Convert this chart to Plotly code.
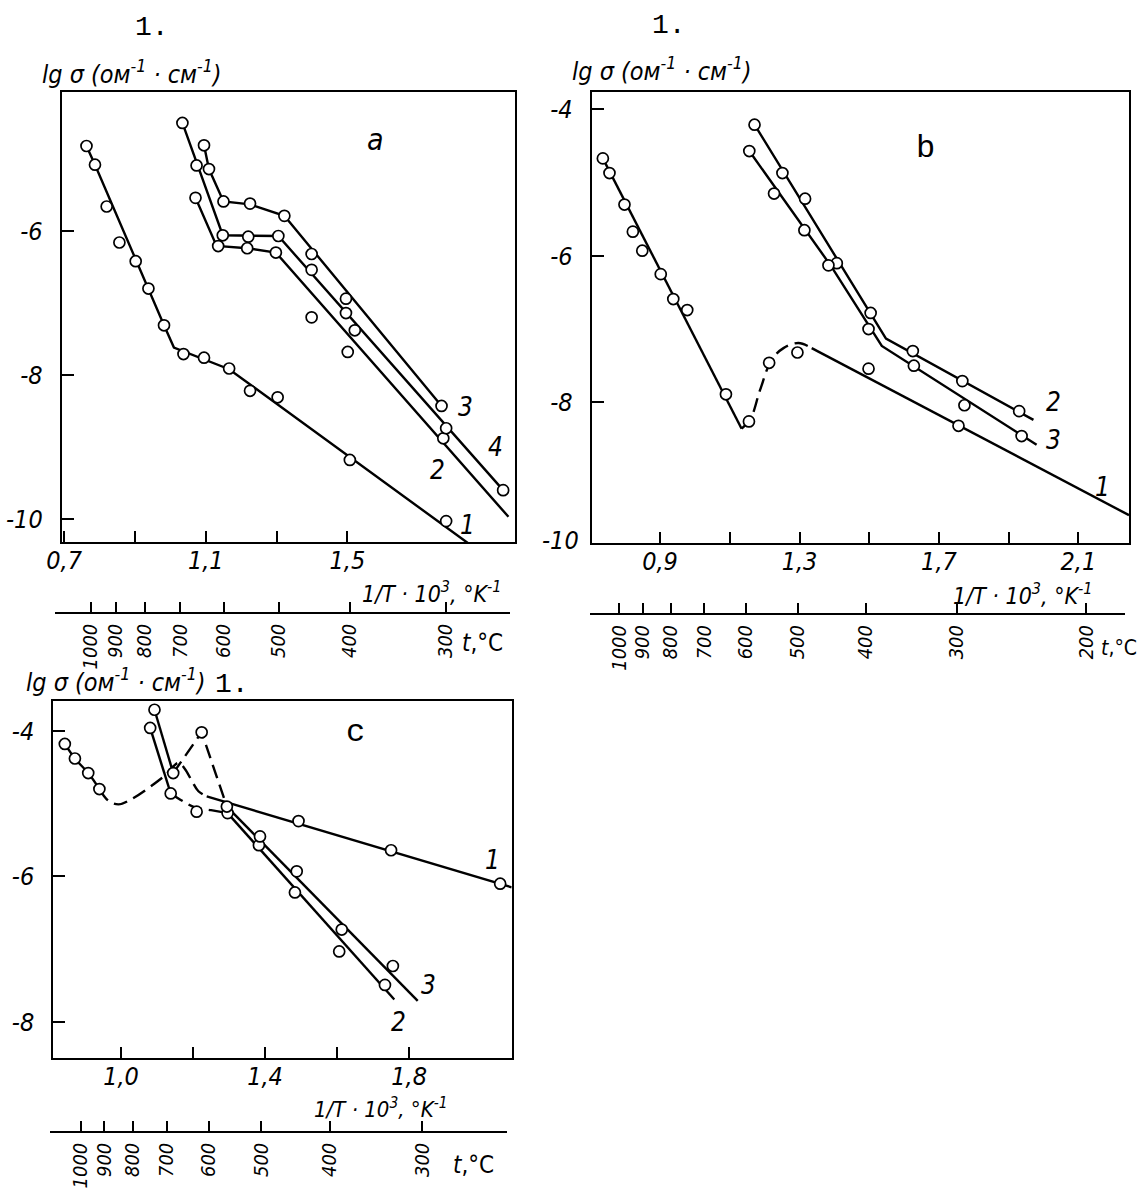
import plotly.graph_objects as go

W, H = 1140, 1191
FONT = "DejaVu Sans Condensed, DejaVu Sans, sans-serif"
MONO = "Liberation Mono, DejaVu Sans Mono, monospace"

# ---------------- panel a ----------------
a1_pts_x = [0.763, 0.787, 0.820, 0.856, 0.902, 0.938, 0.982, 1.037, 1.095, 1.166, 1.225, 1.303, 1.507, 1.779]
a1_pts_y = [-4.82, -5.08, -5.66, -6.16, -6.42, -6.80, -7.31, -7.71, -7.76, -7.91, -8.22, -8.31, -9.18, -10.03]
a1_line_x = [0.763, 0.787, 0.982, 1.010, 1.166, 1.842]
a1_line_y = [-4.82, -5.08, -7.31, -7.62, -7.92, -10.34]

a2_pts_x = [1.071, 1.135, 1.217, 1.298, 1.399, 1.501, 1.771]
a2_pts_y = [-5.54, -6.21, -6.24, -6.30, -7.20, -7.68, -8.88]
a2_line_x = [1.071, 1.128, 1.140, 1.217, 1.298, 1.955]
a2_line_y = [-5.54, -6.18, -6.21, -6.24, -6.30, -9.97]

a3_pts_x = [1.095, 1.109, 1.150, 1.225, 1.322, 1.399, 1.496, 1.766]
a3_pts_y = [-4.81, -5.14, -5.59, -5.62, -5.79, -6.32, -6.94, -8.43]
a3_line_x = [1.095, 1.109, 1.150, 1.225, 1.322, 1.766]
a3_line_y = [-4.81, -5.14, -5.59, -5.63, -5.79, -8.43]

a4_pts_x = [1.034, 1.074, 1.148, 1.220, 1.305, 1.399, 1.496, 1.521, 1.779, 1.940]
a4_pts_y = [-4.50, -5.09, -6.06, -6.08, -6.07, -6.54, -7.14, -7.38, -8.74, -9.60]
a4_line_x = [1.034, 1.148, 1.305, 1.940]
a4_line_y = [-4.50, -6.06, -6.07, -9.60]

# ---------------- panel b ----------------
b1_pts_x = [0.736, 0.755, 0.798, 0.822, 0.849, 0.902, 0.938, 0.978, 1.089, 1.155, 1.213, 1.294, 1.498, 1.756]
b1_pts_y = [-4.67, -4.87, -5.30, -5.67, -5.93, -6.25, -6.59, -6.74, -7.89, -8.26, -7.46, -7.32, -7.54, -8.32]
b1_hi_x = [0.736, 1.134]
b1_hi_y = [-4.67, -8.36]
b1_dash_x = [1.134, 1.160, 1.187, 1.220, 1.254, 1.297, 1.335]
b1_dash_y = [-8.36, -8.22, -7.83, -7.42, -7.26, -7.19, -7.26]
b1_lo_x = [1.335, 2.245]
b1_lo_y = [-7.26, -9.54]

b2_pts_x = [1.171, 1.251, 1.316, 1.407, 1.504, 1.625, 1.767, 1.930]
b2_pts_y = [-4.21, -4.87, -5.22, -6.10, -6.78, -7.30, -7.71, -8.12]
b2_line_x = [1.171, 1.548, 1.971]
b2_line_y = [-4.21, -7.13, -8.24]

b3_pts_x = [1.156, 1.227, 1.314, 1.383, 1.498, 1.628, 1.773, 1.937]
b3_pts_y = [-4.57, -5.15, -5.65, -6.13, -7.00, -7.50, -8.04, -8.46]
b3_line_x = [1.156, 1.392, 1.536, 1.980]
b3_line_y = [-4.57, -6.15, -7.23, -8.58]

# ---------------- panel c ----------------
c1_pts_x = [0.844, 0.872, 0.909, 0.940, 1.493, 1.750, 2.053]
c1_pts_y = [-4.18, -4.38, -4.58, -4.80, -5.24, -5.64, -6.10]
c1_hi_x = [0.844, 0.872, 0.909, 0.940]
c1_hi_y = [-4.18, -4.38, -4.58, -4.80]
c1_dash_x = [0.940, 0.965, 0.993, 1.025, 1.118, 1.160, 1.177, 1.197, 1.215, 1.238]
c1_dash_y = [-4.80, -4.96, -5.01, -4.95, -4.63, -4.44, -4.52, -4.69, -4.83, -4.90]
c1_lo_x = [1.238, 2.085]
c1_lo_y = [-4.90, -6.15]

c2_pts_x = [1.081, 1.138, 1.210, 1.296, 1.383, 1.483, 1.606, 1.733]
c2_pts_y = [-3.96, -4.86, -5.11, -5.13, -5.57, -6.22, -7.03, -7.49]
c2_hi_x = [1.081, 1.138]
c2_hi_y = [-3.96, -4.86]
c2_dash_x = [1.138, 1.173, 1.205, 1.250, 1.296]
c2_dash_y = [-4.86, -4.97, -5.05, -5.09, -5.13]
c2_lo_x = [1.296, 1.759]
c2_lo_y = [-5.13, -7.69]

c3_pts_x = [1.093, 1.145, 1.224, 1.294, 1.386, 1.488, 1.613, 1.755]
c3_pts_y = [-3.71, -4.58, -4.02, -5.04, -5.45, -5.93, -6.73, -7.23]
c3_hi_x = [1.093, 1.145]
c3_hi_y = [-3.71, -4.58]
c3_dash_x = [1.145, 1.224, 1.294]
c3_dash_y = [-4.58, -4.02, -5.04]
c3_lo_x = [1.294, 1.824]
c3_lo_y = [-5.04, -7.71]

# 1/T axis ticks: labelled and unlabelled
a_xlab_vals, a_xlab_text, a_xminor = [0.7, 1.1, 1.5], ["0,7", "1,1", "1,5"], [0.9, 1.3]
b_xlab_vals, b_xlab_text, b_xminor = [0.9, 1.3, 1.7, 2.1], ["0,9", "1,3", "1,7", "2,1"], [1.1, 1.5, 1.9]
c_xlab_vals, c_xlab_text, c_xminor = [1.0, 1.4, 1.8], ["1,0", "1,4", "1,8"], [1.2, 1.6]

# temperature scales (deg C) printed under each 1/T axis
t_ticks_ac = [1000, 900, 800, 700, 600, 500, 400, 300]
t_ticks_b = [1000, 900, 800, 700, 600, 500, 400, 300, 200]


def inv_t(t):
    return 1000.0 / (t + 273.15)


fig = go.Figure()


def add_line(x, y, xa, ya, dash="solid", spline=False):
    fig.add_trace(go.Scatter(
        x=x, y=y, mode="lines", xaxis=xa, yaxis=ya, showlegend=False, hoverinfo="skip",
        line=dict(color="black", width=2.4, dash=dash, shape="spline" if spline else "linear"),
    ))


def add_points(x, y, xa, ya):
    fig.add_trace(go.Scatter(
        x=x, y=y, mode="markers", xaxis=xa, yaxis=ya, showlegend=False, hoverinfo="skip",
        cliponaxis=False,
        marker=dict(symbol="circle", size=11, color="white", line=dict(color="black", width=1.7)),
    ))


DASH = "14px,7px"

# panel a
for lx, ly in [(a1_line_x, a1_line_y), (a2_line_x, a2_line_y), (a3_line_x, a3_line_y), (a4_line_x, a4_line_y)]:
    add_line(lx, ly, "x", "y")
for px_, py_ in [(a1_pts_x, a1_pts_y), (a2_pts_x, a2_pts_y), (a3_pts_x, a3_pts_y), (a4_pts_x, a4_pts_y)]:
    add_points(px_, py_, "x", "y")

# panel b
add_line(b1_hi_x, b1_hi_y, "x2", "y2")
add_line(b1_dash_x, b1_dash_y, "x2", "y2", dash=DASH, spline=True)
add_line(b1_lo_x, b1_lo_y, "x2", "y2")
add_line(b2_line_x, b2_line_y, "x2", "y2")
add_line(b3_line_x, b3_line_y, "x2", "y2")
for px_, py_ in [(b1_pts_x, b1_pts_y), (b2_pts_x, b2_pts_y), (b3_pts_x, b3_pts_y)]:
    add_points(px_, py_, "x2", "y2")

# panel c
add_line(c1_hi_x, c1_hi_y, "x3", "y3", spline=True)
add_line(c1_dash_x, c1_dash_y, "x3", "y3", dash=DASH, spline=True)
add_line(c1_lo_x, c1_lo_y, "x3", "y3")
add_line(c2_hi_x, c2_hi_y, "x3", "y3")
add_line(c2_dash_x, c2_dash_y, "x3", "y3", dash=DASH, spline=True)
add_line(c2_lo_x, c2_lo_y, "x3", "y3")
add_line(c3_hi_x, c3_hi_y, "x3", "y3")
add_line(c3_dash_x, c3_dash_y, "x3", "y3", dash=DASH)
add_line(c3_lo_x, c3_lo_y, "x3", "y3")
for px_, py_ in [(c1_pts_x, c1_pts_y), (c2_pts_x, c2_pts_y), (c3_pts_x, c3_pts_y)]:
    add_points(px_, py_, "x3", "y3")

# empty traces so the temperature scales are rendered
for xa, ya in [("x4", "y"), ("x5", "y2"), ("x6", "y3")]:
    fig.add_trace(go.Scatter(x=[None], y=[None], xaxis=xa, yaxis=ya, showlegend=False, hoverinfo="skip"))

tick_font = dict(family=FONT, size=25, color="black", style="italic")
TICK = dict(ticks="inside", tickwidth=1.6, tickcolor="black")


def frame_x(dom, rng, vals, text, minor_vals, anchor):
    return dict(domain=[dom[0] / W, dom[1] / W], range=rng, anchor=anchor,
                tickmode="array", tickvals=vals, ticktext=text, ticklen=11, **TICK,
                minor=dict(tickmode="array", tickvals=minor_vals, ticklen=11, showgrid=False, **TICK),
                showline=True, mirror=True, linewidth=2, linecolor="black",
                showgrid=False, zeroline=False, tickfont=tick_font, ticklabelstandoff=-5)


def frame_y(dom, rng, vals, text, anchor):
    return dict(domain=[1 - dom[1] / H, 1 - dom[0] / H], range=rng, anchor=anchor,
                tickmode="array", tickvals=vals, ticktext=text, ticklen=12, **TICK,
                showline=True, mirror=True, linewidth=2, linecolor="black",
                showgrid=False, zeroline=False, tickfont=tick_font, ticklabelstandoff=12)


def t_axis(dom, rng, ticks, ypos):
    return dict(domain=[dom[0] / W, dom[1] / W], range=rng, anchor="free", position=1 - ypos / H,
                tickmode="array", tickvals=[inv_t(t) for t in ticks], ticktext=[str(t) for t in ticks],
                tickangle=-90, ticklen=10, **TICK,
                showline=True, linewidth=2, linecolor="black", showgrid=False, zeroline=False,
                tickfont=dict(family=FONT, size=20, color="black", style="italic"), ticklabelstandoff=2)


fig.update_layout(
    width=W, height=H, margin=dict(l=0, r=0, t=0, b=0, pad=0, autoexpand=False),
    paper_bgcolor="white", plot_bgcolor="rgba(0,0,0,0)", showlegend=False,
    xaxis=frame_x((61.7, 515), [0.693, 1.9735], a_xlab_vals, a_xlab_text, a_xminor, "y"),
    yaxis=frame_y((92, 542), [-10.32, -4.07], [-6, -8, -10], ["-6", "-8", "-10"], "x"),
    xaxis2=frame_x((591.7, 1129), [0.704, 2.245], b_xlab_vals, b_xlab_text, b_xminor, "y2"),
    yaxis2=frame_y((92, 543), [-9.92, -3.764], [-4, -6, -8], ["-4", "-6", "-8"], "x2"),
    xaxis3=frame_x((53.3, 511.7), [0.812, 2.085], c_xlab_vals, c_xlab_text, c_xminor, "y3"),
    yaxis3=frame_y((701, 1057.7), [-8.49, -3.59], [-4, -6, -8], ["-4", "-6", "-8"], "x3"),
    xaxis4=t_axis((55, 510), [0.6888, 1.9185], t_ticks_ac, 612.7),
    xaxis5=t_axis((590, 1125), [0.7022, 2.2230], t_ticks_b, 614),
    xaxis6=t_axis((50, 506.7), [0.6994, 1.9826], t_ticks_ac, 1131.7),
)


def note(text, px, py, size=22, family=FONT, italic=True, xanchor="center"):
    fig.add_annotation(
        x=px / W, y=1 - py / H, xref="paper", yref="paper", text=text, showarrow=False,
        xanchor=xanchor, yanchor="middle",
        font=dict(family=family, size=size, color="black", style="italic" if italic else "normal"),
    )


y_title = "lg σ (ом<sup>-1</sup> · см<sup>-1</sup>)"
x_title = "1/T · 10<sup>3</sup>, °K<sup>-1</sup>"
t_title = "<i>t</i>,°C"

# panel a texts
note("1.", 152, 28, size=28, family=MONO, italic=False)
note(y_title, 132, 72, size=25)
note(x_title, 432, 592, size=23)
note(t_title, 482, 643, size=24, italic=False)
note("a", 375, 140, size=30)
note("3", 465, 407, size=26)
note("4", 495, 447, size=26)
note("2", 438, 470, size=26)
note("1", 467, 525, size=26)

# panel b texts
note("1.", 669, 25, size=28, family=MONO, italic=False)
note(y_title, 662, 70, size=25)
note(x_title, 1023, 594, size=23)
note(t_title, 1139, 648, size=21, italic=False, xanchor="right")
note("-10", 560, 540, size=25)
note("b", 925, 148, size=32, family=MONO, italic=False)
note("2", 1053, 402, size=26)
note("3", 1053, 440, size=26)
note("1", 1102, 487, size=26)

# panel c texts
note("1.", 232, 684, size=28, family=MONO, italic=False)
note(y_title, 116, 680, size=25)
note(x_title, 380, 1108, size=22)
note(t_title, 473, 1165, size=24, italic=False)
note("c", 355, 732, size=32, family=MONO, italic=False)
note("1", 492, 860, size=26)
note("3", 428, 985, size=26)
note("2", 398, 1022, size=26)

fig.write_html("out.html")
